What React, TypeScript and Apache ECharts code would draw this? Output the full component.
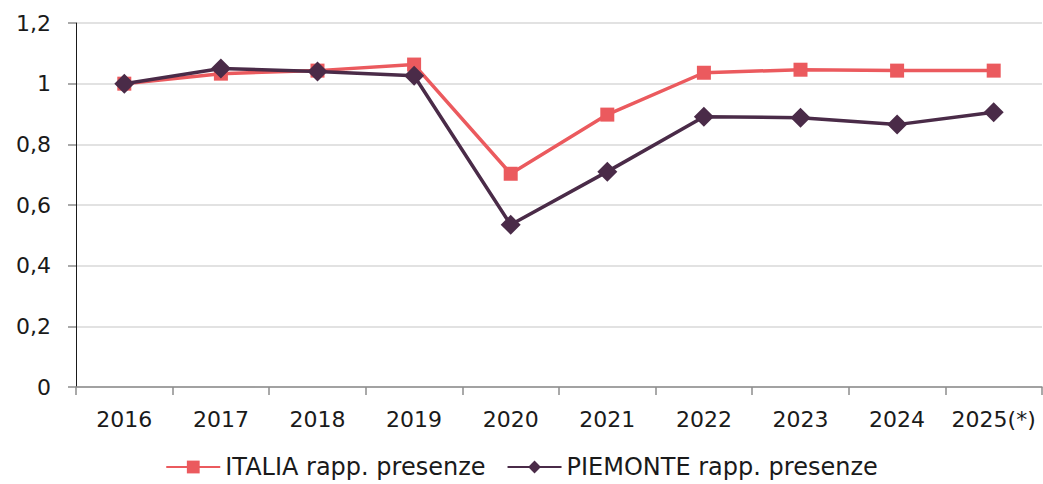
import React, { useEffect, useRef } from "react";
import * as echarts from "echarts";

const categories = ["2016", "2017", "2018", "2019", "2020", "2021", "2022", "2023", "2024", "2025(*)"];
const italia = [1.0, 1.033, 1.043, 1.063, 0.703, 0.898, 1.036, 1.046, 1.043, 1.043];
const piemonte = [1.0, 1.05, 1.04, 1.026, 0.535, 0.71, 0.891, 0.888, 0.865, 0.906];
const seriesNames = ["ITALIA rapp. presenze", "PIEMONTE rapp. presenze"];

const FONT = "DejaVu Sans";

export default function App() {
  const ref = useRef<HTMLDivElement>(null);
  useEffect(() => {
    if (!ref.current) return;
    const chart = echarts.init(ref.current, undefined, { renderer: "svg" });
    chart.setOption({
      animation: false,
      backgroundColor: "#ffffff",
      textStyle: { fontFamily: FONT },
      grid: { left: 76, right: 1, top: 23, bottom: 97 },
      legend: {
        bottom: 0,
        left: "center",
        itemWidth: 54,
        itemHeight: 16,
        itemGap: 21,
        textStyle: { fontFamily: FONT, fontSize: 24, color: "#1a1a1a" },
        data: seriesNames,
      },
      xAxis: {
        type: "category",
        data: categories,
        boundaryGap: true,
        axisLine: { show: true, lineStyle: { color: "#8c8c8c", width: 1.5 } },
        axisTick: { show: true, length: 8, interval: 0, lineStyle: { color: "#8c8c8c", width: 1.5 } },
        axisLabel: { fontFamily: FONT, fontSize: 22, color: "#1a1a1a", margin: 21, interval: 0 },
        splitLine: { show: false },
      },
      yAxis: {
        type: "value",
        min: 0,
        max: 1.2,
        interval: 0.2,
        axisLine: { show: true, lineStyle: { color: "#1a1a1a", width: 1 } },
        axisTick: { show: true, length: 8, lineStyle: { color: "#8c8c8c", width: 1.5 } },
        axisLabel: {
          fontFamily: FONT,
          fontSize: 22,
          color: "#1a1a1a",
          margin: 25,
          formatter: (v: number) => (Math.round(v * 10) / 10).toString().replace(".", ","),
        },
        splitLine: { show: true, lineStyle: { color: "#d9d9d9", width: 1.5 } },
      },
      series: [
        {
          name: seriesNames[0],
          type: "line",
          data: italia,
          symbol: "rect",
          symbolSize: 14,
          lineStyle: { color: "#eb5a5e", width: 3.5 },
          itemStyle: { color: "#eb5a5e" },
        },
        {
          name: seriesNames[1],
          type: "line",
          data: piemonte,
          symbol: "diamond",
          symbolSize: 20,
          lineStyle: { color: "#4a2b48", width: 3.5 },
          itemStyle: { color: "#4a2b48" },
        },
      ],
    });
    return () => chart.dispose();
  }, []);
  return (
    <div
      ref={ref}
      style={{ position: "fixed", left: 0, top: 0, width: 1043, height: 484 }}
    />
  );
}
